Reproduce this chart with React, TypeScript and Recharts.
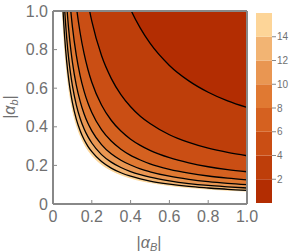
import React from 'react';
import {
  ComposedChart,
  Area,
  Line,
  XAxis,
  YAxis,
  CartesianGrid,
  ReferenceLine,
  BarChart,
  Bar,
} from 'recharts';

// x positions (|alpha_B|) where the contour heights were read
const xValues = [0, 0.01, 0.02, 0.03, 0.04, 0.05, 0.06, 0.07, 0.08, 0.09, 0.1, 0.12, 0.14, 0.16, 0.18, 0.2, 0.25, 0.3, 0.35, 0.4, 0.45, 0.5, 0.6, 0.7, 0.8, 0.9, 1.0];

// |alpha_b| heights of each contour level
const level2 = [72, 35.82, 17.96, 12.01, 9.03, 7.245, 6.055, 5.205, 4.569, 4.073, 3.676, 3.082, 2.657, 2.339, 2.092, 1.894, 1.538, 1.302, 1.134, 1.008, 0.911, 0.833, 0.718, 0.638, 0.579, 0.534, 0.5];
const level4 = [36, 17.91, 8.98, 6.005, 4.515, 3.623, 3.028, 2.603, 2.284, 2.037, 1.838, 1.541, 1.329, 1.17, 1.046, 0.947, 0.769, 0.651, 0.567, 0.504, 0.455, 0.417, 0.359, 0.319, 0.289, 0.267, 0.25];
const level6 = [24, 11.94, 5.987, 4.003, 3.01, 2.415, 2.018, 1.735, 1.523, 1.358, 1.226, 1.027, 0.886, 0.78, 0.697, 0.631, 0.513, 0.434, 0.378, 0.336, 0.304, 0.278, 0.24, 0.213, 0.193, 0.178, 0.167];
const level8 = [18, 8.954, 4.49, 3.003, 2.258, 1.811, 1.514, 1.301, 1.142, 1.018, 0.919, 0.771, 0.664, 0.585, 0.523, 0.474, 0.385, 0.326, 0.284, 0.252, 0.228, 0.208, 0.18, 0.16, 0.145, 0.134, 0.125];
const level10 = [14.4, 7.163, 3.592, 2.402, 1.806, 1.449, 1.211, 1.041, 0.914, 0.815, 0.735, 0.616, 0.532, 0.468, 0.418, 0.379, 0.308, 0.26, 0.227, 0.202, 0.182, 0.167, 0.144, 0.128, 0.116, 0.107, 0.1];
const level12 = [12, 5.969, 2.993, 2.002, 1.505, 1.208, 1.009, 0.868, 0.761, 0.679, 0.613, 0.514, 0.443, 0.39, 0.349, 0.316, 0.256, 0.217, 0.189, 0.168, 0.152, 0.139, 0.12, 0.106, 0.096, 0.089, 0.083];
const level14 = [10.2, 5.116, 2.566, 1.716, 1.29, 1.035, 0.865, 0.744, 0.653, 0.582, 0.525, 0.44, 0.38, 0.334, 0.299, 0.271, 0.22, 0.186, 0.162, 0.144, 0.13, 0.119, 0.103, 0.091, 0.083, 0.076, 0.071];
// edge of the plotted range (white beyond it)
const rangeEdge = [9.52, 4.775, 2.395, 1.602, 1.204, 0.966, 0.807, 0.694, 0.609, 0.543, 0.49, 0.411, 0.355, 0.312, 0.279, 0.253, 0.205, 0.174, 0.151, 0.134, 0.121, 0.111, 0.096, 0.085, 0.077, 0.071, 0.0667];

const levels = [2, 4, 6, 8, 10, 12, 14];
const contourHeights = [level2, level4, level6, level8, level10, level12, level14];

// band colours: 0-2, 2-4, ..., 14-16
const bandColors = ['#b32d02', '#be3e0a', '#ca4e14', '#d56120', '#e07932', '#e99652', '#f2b473', '#fdd598'];

const axisTicks = [0, 0.2, 0.4, 0.6, 0.8, 1.0];
const colorbarTicks = [2, 4, 6, 8, 10, 12, 14];
const colorbarEdges = [0, 2, 4, 6, 8, 10, 12, 14, 16];

const rows = xValues.map((x, i) => {
  const r: Record<string, number> = { x, edge: rangeEdge[i] };
  levels.forEach((L, j) => {
    r['c' + L] = contourHeights[j][i];
  });
  return r;
});

const barRow: Record<string, number | string> = { k: 'bar' };
for (let i = 0; i < colorbarEdges.length - 1; i++) {
  barRow['b' + i] = colorbarEdges[i + 1] - colorbarEdges[i];
}

const fmt = (v: number) => (v === 0 ? '0' : v.toFixed(1));
const FONT = '"Liberation Sans", Arial, sans-serif';
const TEXT = '#707070';
const AXIS = '#888888';

export default function App() {
  return (
    <div style={{ position: 'absolute', left: 0, top: 0, width: 300, height: 252, background: '#fff' }}>
      <div style={{ position: 'absolute', left: 0, top: 0 }}>
        <ComposedChart width={300} height={252} data={rows} margin={{ top: 11, right: 53, bottom: 0, left: 0 }}>
          <CartesianGrid horizontal={false} vertical={false} fill={bandColors[0]} fillOpacity={1} stroke="none" />
          <XAxis
            dataKey="x"
            type="number"
            domain={[0, 1]}
            ticks={axisTicks}
            interval={0}
            allowDataOverflow
            height={48}
            tickSize={-4}
            tickMargin={11}
            tickFormatter={fmt}
            axisLine={{ stroke: AXIS, strokeWidth: 2 }}
            tickLine={{ stroke: AXIS }}
            tick={{ fill: TEXT, fontSize: 16, fontFamily: FONT }}
          />
          <YAxis
            type="number"
            domain={[0, 1]}
            ticks={axisTicks}
            interval={0}
            allowDataOverflow
            width={53}
            tickSize={-4}
            tickMargin={9}
            tickFormatter={fmt}
            axisLine={{ stroke: AXIS, strokeWidth: 2 }}
            tickLine={{ stroke: AXIS }}
            tick={{ fill: TEXT, fontSize: 16, fontFamily: FONT }}
          />
          {levels.map((L, j) => (
            <Area
              key={'a' + L}
              type="monotone"
              dataKey={'c' + L}
              stroke="none"
              fill={bandColors[j + 1]}
              fillOpacity={1}
              isAnimationActive={false}
              dot={false}
              activeDot={false}
            />
          ))}
          <Area
            type="monotone"
            dataKey="edge"
            stroke="#fdd598"
            strokeWidth={0.8}
            fill="#ffffff"
            fillOpacity={1}
            isAnimationActive={false}
            dot={false}
            activeDot={false}
          />
          {levels.map((L) => (
            <Line
              key={'l' + L}
              type="monotone"
              dataKey={'c' + L}
              stroke="#000000"
              strokeWidth={1.3}
              dot={false}
              activeDot={false}
              isAnimationActive={false}
            />
          ))}
          <ReferenceLine y={1} stroke={AXIS} strokeWidth={2} />
          <ReferenceLine x={1} stroke={AXIS} strokeWidth={2} />
        </ComposedChart>
      </div>
      <div style={{ position: 'absolute', left: 256, top: 0 }}>
        <BarChart width={44} height={252} data={[barRow]} margin={{ top: 13, right: 0, bottom: 49, left: 0 }} barCategoryGap={0}>
          <XAxis dataKey="k" hide />
          <YAxis
            orientation="right"
            type="number"
            domain={[0, 16]}
            ticks={colorbarTicks}
            interval={0}
            width={28}
            axisLine={false}
            tickSize={4}
            tickMargin={1}
            tickLine={{ stroke: AXIS }}
            tick={{ fill: TEXT, fontSize: 10, fontFamily: FONT }}
          />
          {bandColors.map((c, i) => (
            <Bar key={'b' + i} dataKey={'b' + i} stackId="s" fill={c} isAnimationActive={false} />
          ))}
        </BarChart>
      </div>
      <svg width={300} height={252} style={{ position: 'absolute', left: 0, top: 0, pointerEvents: 'none' }}>
        <text x={149} y={247.5} textAnchor="middle" fill={TEXT} fontSize={16} fontFamily={FONT}>
          |<tspan fontStyle="italic">α</tspan>
          <tspan fontStyle="italic" fontSize={11} dy={3}>B</tspan>
          <tspan dy={-3}>|</tspan>
        </text>
        <text transform="translate(15,107) rotate(-90)" textAnchor="middle" fill={TEXT} fontSize={16} fontFamily={FONT}>
          |<tspan fontStyle="italic">α</tspan>
          <tspan fontStyle="italic" fontSize={11} dy={3}>b</tspan>
          <tspan dy={-3}>|</tspan>
        </text>
      </svg>
    </div>
  );
}
